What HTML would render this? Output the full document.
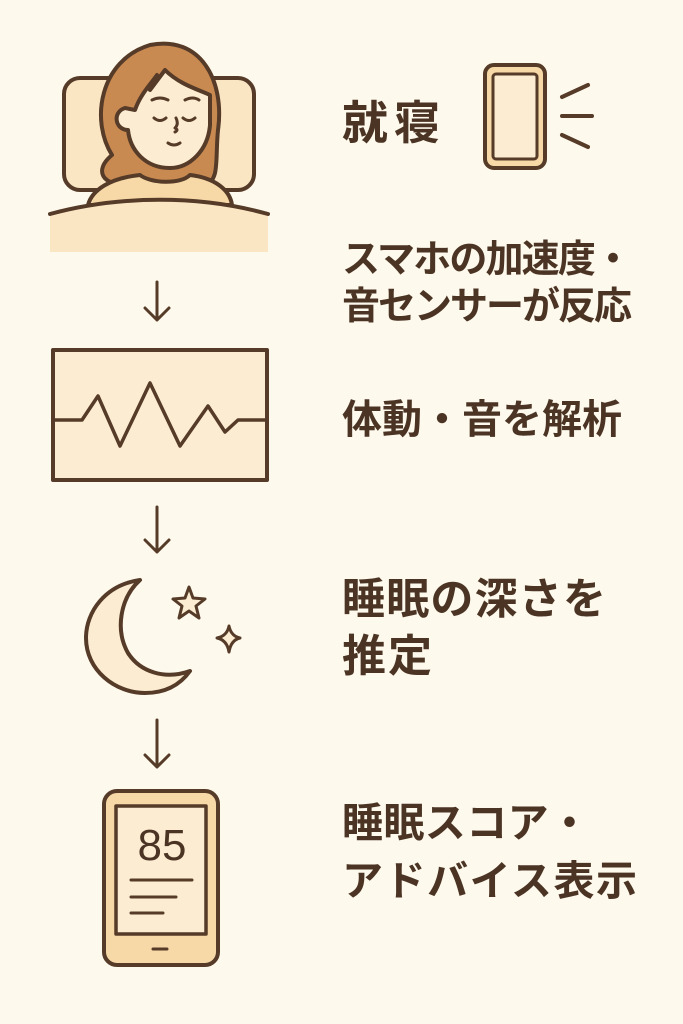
<!DOCTYPE html>
<html><head><meta charset="utf-8"><style>
html,body{margin:0;padding:0;background:#fdf9ec;}
svg{display:block}
text{font-family:"Liberation Sans","Noto Sans CJK JP",sans-serif;font-weight:bold;fill:#4b3424}
</style></head><body>
<svg width="683" height="1024" viewBox="0 0 683 1024">
<rect width="683" height="1024" fill="#fdf9ec"/>
<g stroke="#553b28" stroke-width="4" stroke-linecap="round" stroke-linejoin="round">
<rect x="64" y="78" width="190" height="112" rx="16" fill="#fbe6c4"/>
<path d="M112 155 C90 120 100 60 150 45 C200 35 225 80 218 130 C215 160 220 180 205 185 L120 185 C95 180 100 165 112 155Z" fill="#c98a52"/>
<path d="M157 75 L150 90 L165 70 C180 85 200 90 210 95 L210 125 C208 150 190 168 170 168 C145 168 130 150 128 130 C115 130 112 112 125 108 L135 110 C140 95 150 85 157 75Z" fill="#fcecd2"/>
<path d="M88 205 C92 190 110 178 140 175 C150 183 180 185 190 175 C215 178 230 190 232 205Z" fill="#f7d9a8"/>
<path d="M152 100 q8-4 16 0 M185 100 q8-4 14 0" fill="none" stroke-width="3"/>
<path d="M154 118 q6 5 12 0 M183 118 q6 5 12 0 M176 118 q3 6 -1 10 q4 2 0 4 M168 143 q6 4 12 0" fill="none" stroke-width="3"/>
<path d="M50 214 C120 195 200 195 268 214 L268 252 L50 252Z" fill="#fbe6c4" stroke="none"/>
<path d="M50 214 C120 195 200 195 268 214" fill="none"/>
<rect x="485" y="65" width="60" height="103" rx="9" fill="#f7d9a8"/>
<rect x="493" y="74" width="44" height="85" rx="3" fill="#fcecd2" stroke-width="3"/>
<path d="M562 97 L588 85 M562 116 L592 116 M562 135 L588 147" fill="none"/>
<path d="M157 282 V320 M145 308 L157 320 L169 308" fill="none" stroke-width="3"/>
<path d="M157 507 V552 M145 540 L157 552 L169 540" fill="none" stroke-width="3"/>
<path d="M157 720 V767 M145 755 L157 767 L169 755" fill="none" stroke-width="3"/>
<rect x="53" y="350" width="214" height="130" fill="#fcecd2"/>
<path d="M53 420 H82 L98 396 L120 446 L150 383 L180 446 L208 406 L225 432 L238 420 H267" fill="none" stroke-width="3.5"/>
<path d="M140 580 C105 585 86 612 86 638 C86 670 115 693 145 693 C165 693 180 685 190 671 C165 680 140 672 128 653 C115 630 120 598 140 580Z" fill="#fcecd2"/>
<path d="M189 587 L193 598 L205 599 L196 606 L199 618 L189 611 L179 618 L182 606 L173 599 L185 598Z" fill="#fcecd2" stroke-width="3"/>
<path d="M229 626 Q231 636 240 638 Q231 640 229 652 Q227 640 217 638 Q227 636 229 626Z" fill="#fcecd2" stroke-width="3"/>
<rect x="104" y="791" width="114" height="174" rx="13" fill="#f7d9a8"/>
<rect x="116" y="806" width="90" height="128" fill="#fcecd2" stroke-width="3.5"/>
<path d="M131 880 H192 M131 897 H176 M131 913 H163 M153 949 H167" fill="none" stroke-width="3"/>
</g>
<text x="162" y="860" font-size="44" text-anchor="middle" style="font-weight:normal">85</text>
<text x="342" y="139" font-size="46" textLength="98">就寝</text>
<text x="342" y="272" font-size="38" textLength="290">スマホの加速度・</text>
<text x="342" y="319" font-size="38" textLength="290">音センサーが反応</text>
<text x="342" y="433" font-size="40" textLength="280">体動・音を解析</text>
<text x="342" y="614" font-size="43" textLength="264">睡眠の深さを</text>
<text x="342" y="671" font-size="44" textLength="90">推定</text>
<text x="342" y="837" font-size="41" textLength="248">睡眠スコア・</text>
<text x="342" y="895" font-size="41" textLength="295">アドバイス表示</text>
</svg>
</body></html>
